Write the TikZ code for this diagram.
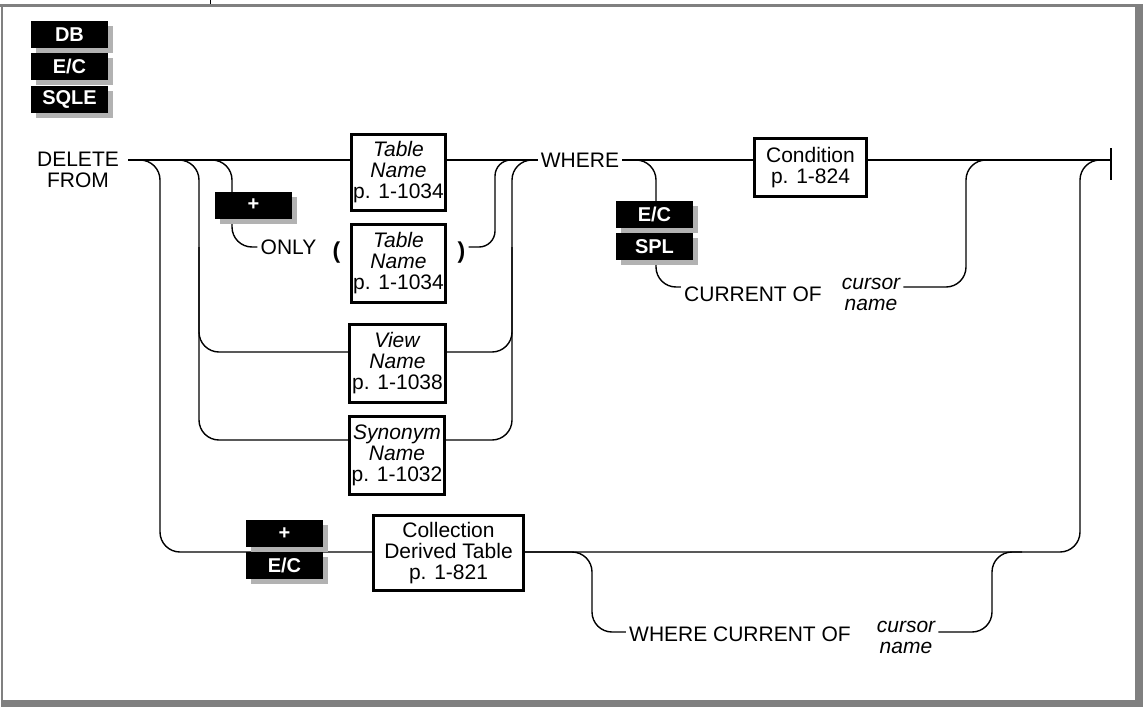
\documentclass[tikz,border=0pt]{standalone}
\usepackage{fontspec}
\setmainfont{Liberation Sans}
\usetikzlibrary{positioning,shadows,backgrounds}

\begin{document}
\begin{tikzpicture}[
      x=1pt, y=-1pt,
      rail/.style={line width=1.4pt, rounded corners=20pt},
      kw/.style={font=\fontsize{21}{21}\selectfont, inner sep=3pt, align=center},
      kwit/.style={kw, font=\fontsize{21}{21}\selectfont\itshape},
      paren/.style={font=\fontsize{23}{23}\selectfont\bfseries, inner sep=3pt},
      synbox/.style={draw, line width=2.8pt, font=\fontsize{21}{21}\selectfont, align=center, inner sep=2pt},
      badge/.style={fill=black, text=white, font=\fontsize{20}{20}\selectfont\bfseries, minimum width=77pt, minimum height=27pt, inner sep=0pt, drop shadow={shadow xshift=5pt, shadow yshift=-5pt, fill=black!30, opacity=1}},
      framegray/.style={fill=black!50}
  ]
      \useasboundingbox (0,0) rectangle (1143,707);

      % Page frame
      \fill[framegray] (0,4) rectangle (1143,7);
      \fill[framegray] (1,4) rectangle (3,707);
      \fill[framegray] (1135,4) rectangle (1143,707);
      \fill[framegray] (1,700) rectangle (1143,707);
      \draw[line width=0.8pt] (210,0) -- (210,4);

      % Product badges
      \node[badge] (db) at (69.5,34.5) {DB};
      \node[badge, below=5pt of db] (ecdb) {E/C};
      \node[badge, below=5pt of ecdb] (sqle) {SQLE};

      % Rows and columns of the rails
      \coordinate (rMain) at (0,160);
      \coordinate (rOnly) at (0,247);
      \coordinate (rCur) at (0,287);
      \coordinate (rView) at (0,352);
      \coordinate (rSyn) at (0,440);
      \coordinate (rColl) at (0,552);
      \coordinate (rWcur) at (0,632);
      \coordinate (b1) at (160,0);
      \coordinate (b2) at (199,0);
      \coordinate (b3) at (232,0);
      \coordinate (m1) at (495,0);
      \coordinate (m2) at (512,0);
      \coordinate (w1) at (656,0);
      \coordinate (w2) at (966,0);
      \coordinate (d1) at (592,0);
      \coordinate (d2) at (992,0);
      \coordinate (b5) at (1080,0);
      \coordinate (j0) at (128,160);
      \coordinate (endbar) at (1111,160);

      % Keywords and syntax boxes
      \node[kw] (delete) at (78,169.5) {DELETE\\FROM};
      \node[synbox, minimum width=94.5pt, minimum height=76.5pt] (tab1) at (398.5,172.5) {\textit{Table}\\\textit{Name}\\p. 1-1034};
      \node[badge] (plusa) at (253.5,205) {+};
      \node[kw] (only) at (288.5,247) {ONLY};
      \node[paren] (lpar) at (336.5,253) {(};
      \node[synbox, minimum width=94.5pt, minimum height=78.5pt] (tab2) at (398.5,263.5) {\textit{Table}\\\textit{Name}\\p. 1-1034};
      \node[paren] (rpar) at (461.5,253) {)};
      \node[synbox, minimum width=96.5pt, minimum height=78.5pt] (view) at (397.5,363.5) {\textit{View}\\\textit{Name}\\p. 1-1038};
      \node[synbox, minimum width=95.5pt, minimum height=78.5pt] (syn) at (397,455.5) {\textit{Synonym}\\\textit{Name}\\p. 1-1032};
      \node[badge] (plusb) at (284.5,533.5) {+};
      \node[badge, below=5pt of plusb] (ecb) {E/C};
      \node[synbox, minimum width=150.5pt, minimum height=75.5pt] (coll) at (448.5,553) {Collection\\Derived Table\\p. 1-821};

      \node[kw] (where) at (580,160) {WHERE};
      \node[synbox, minimum width=112.5pt, minimum height=58.5pt] (cond) at (810.5,167.5) {Condition\\p. 1-824};
      \node[badge] (ecw) at (654.5,214.5) {E/C};
      \node[badge, below=5pt of ecw] (spl) {SPL};
      \node[kw] (curof) at (753,294) {CURRENT OF};
      \node[kwit] (curnm) at (871,294) {cursor\\name};
      \node[kw] (wcur) at (740,634) {WHERE CURRENT OF};
      \node[kwit] (wcnm) at (906,637) {cursor\\name};

      \begin{pgfonlayer}{background}
      % Main line
      \draw[rail] (j0) -- (tab1.west |- rMain);
      \draw[rail] (tab1.east |- rMain) -- (where.west);
      \draw[rail] (where.east) -- (cond.west |- rMain);
      \draw[rail] (cond.east |- rMain) -- (endbar);
      \draw[line width=1.4pt] (endbar) ++(0,-12) -- ++(0,32);

      % Branches after DELETE FROM
      \draw[rail] (j0) -| (b1 |- rColl) -- (coll.west |- rColl);
      \draw[rail] (j0) -| (b2 |- rSyn) -- (syn.west |- rSyn);
      \draw[rail] (b2 |- rOnly) |- (view.west |- rView);
      \draw[rail] (j0) -| (b3 |- rOnly) -- (only.west);

      % Back to WHERE
      \draw[rail, rounded corners=16pt] (rpar.east |- rOnly) -| (m1 |- rMain) -- (where.west);
      \draw[rail] (syn.east |- rSyn) -| (m2 |- rMain) -- (where.west);
      \draw[rail] (view.east |- rView) -| (m2 |- rOnly);

      % WHERE CURRENT OF
      \draw[rail] (where.east) -| (w1 |- rCur) -- (curof.west |- rCur);
      \draw[rail] (curnm.east |- rCur) -| (w2 |- rMain) -- (endbar);

      % Collection derived table
      \draw[rail] (coll.east |- rColl) -| (b5 |- rMain) -- (endbar);
      \draw[rail] (coll.east |- rColl) -| (d1 |- rWcur) -- (wcur.west |- rWcur);
      \draw[rail] (wcnm.east |- rWcur) -| (d2 |- rColl) -- ++(30,0);
      \end{pgfonlayer}

  \end{tikzpicture}
\end{document}
